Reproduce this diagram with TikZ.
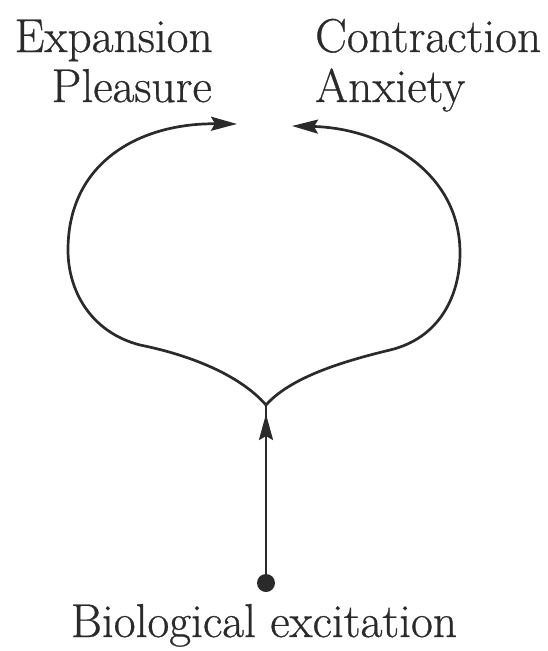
\documentclass[tikz,border=0pt]{standalone}
\usepackage{fontspec}
\setmainfont{Latin Modern Roman}[FakeBold=0.6]
\usetikzlibrary{arrows.meta}
\definecolor{ink}{HTML}{2A2A2A}
\begin{document}
\begin{tikzpicture}[x=1pt,y=-1pt,
  lbl/.style={inner sep=0pt,text=ink,font=\fontsize{47.5}{55}\selectfont},
  curve/.style={draw=ink,line width=2.7pt},
  tip/.style={-{Stealth[length=26pt,width=14pt,inset=4pt]}}]
\useasboundingbox (0,0) rectangle (547,651);
% labels
\node[lbl,anchor=base east] (exp) at (213,52) {Expansion};
\node[lbl,anchor=base east] (ple) at (212,102) {Pleasure};
\node[lbl,anchor=base west] (con) at (315,52) {Contraction};
\node[lbl,anchor=base west] (anx) at (315,102) {Anxiety};
\node[lbl,anchor=base] (bio) at (264,637) {Biological excitation};
% key points
\coordinate (cusp) at (266,405);
\coordinate (stemtip) at (266,414);
\coordinate (ltip) at (237,124);
\coordinate (rtip) at (292,126);
\node[circle,fill=ink,inner sep=0pt,minimum size=18pt] (dot) at (266,583) {};
% stem
\draw[curve] (dot.center) -- (cusp);
\draw[curve,tip] (dot.center) -- (stemtip);
% left loop
\draw[curve,tip] (cusp) .. controls (240,375) and (190,355) .. (140,345)
  .. controls (90,332) and (68,290) .. (68,250)
  .. controls (68,162) and (140,123) .. (ltip);
% right loop
\draw[curve,tip] (cusp) .. controls (290,378) and (340,362) .. (390,350)
  .. controls (440,338) and (460,295) .. (460,253)
  .. controls (460,170) and (380,128) .. (rtip);
\end{tikzpicture}
\end{document}
